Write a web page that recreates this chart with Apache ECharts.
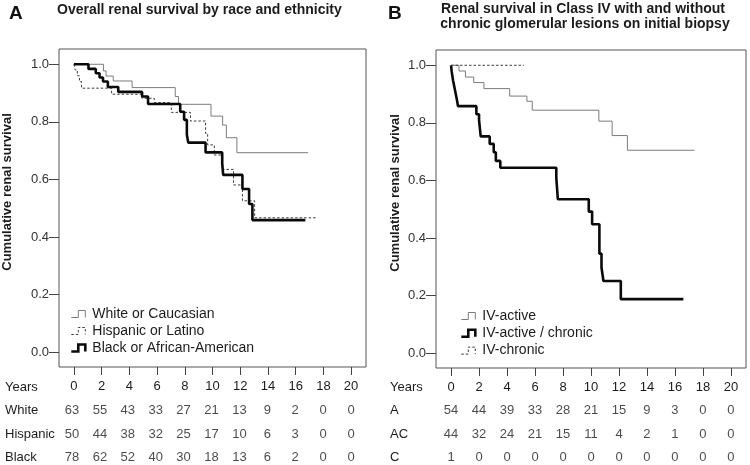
<!DOCTYPE html>
<html><head><meta charset="utf-8">
<script src="https://cdn.jsdelivr.net/npm/echarts@6/dist/echarts.min.js"></script>
<style>html,body{margin:0;padding:0;background:#fff}#c{width:750px;height:465px}</style>
</head><body><div id="c"></div>
<script>
// ---- tick labels ----
const yearTicks = [0, 2, 4, 6, 8, 10, 12, 14, 16, 18, 20];
const survTicks = [0, 0.2, 0.4, 0.6, 0.8, 1.0];

// ---- Panel A: overall renal survival by race and ethnicity ----
const whiteT = [0, 2.13, 2.32, 2.84, 4.2, 7.31, 7.55, 9.89, 10.73, 11.0, 11.76, 16.9];
const whiteS = [1.0, 0.977, 0.959, 0.942, 0.919, 0.888, 0.861, 0.82, 0.789, 0.745, 0.693, 0.693];
const hispT = [0, 0.1, 0.25, 0.4, 0.55, 2.72, 4.9, 5.8, 7.03, 8.41, 9.5, 9.65, 10.13, 10.73, 11.52, 12.16, 13.04, 17.5];
const hispS = [1.0, 0.98, 0.96, 0.94, 0.917, 0.896, 0.882, 0.867, 0.833, 0.803, 0.76, 0.72, 0.685, 0.635, 0.581, 0.526, 0.467, 0.467];
const blackT = [0, 1.05, 1.58, 1.85, 2.1, 2.45, 3.2, 4.92, 5.35, 7.67, 7.95, 8.15, 8.25, 9.5, 10.7, 10.77, 12.16, 12.64, 12.88, 16.7];
const blackS = [1.0, 0.984, 0.969, 0.954, 0.94, 0.921, 0.904, 0.888, 0.862, 0.835, 0.807, 0.755, 0.728, 0.694, 0.656, 0.616, 0.567, 0.515, 0.459, 0.459];

const rowNamesA = ['Years', 'White', 'Hispanic', 'Black'];
const whiteRisk = [63, 55, 43, 33, 27, 21, 13, 9, 2, 0, 0];
const hispRisk = [50, 44, 38, 32, 25, 17, 10, 6, 3, 0, 0];
const blackRisk = [78, 62, 52, 40, 30, 18, 13, 6, 2, 0, 0];

// ---- Panel B: Class IV with and without chronic lesions ----
const activeT = [0, 0.57, 1.03, 1.62, 2.35, 4.19, 5.42, 5.8, 10.56, 11.51, 12.6, 17.4];
const activeS = [1.0, 0.98, 0.959, 0.94, 0.919, 0.893, 0.875, 0.844, 0.806, 0.756, 0.705, 0.705];
const acT = [0, 0.05, 0.14, 0.26, 0.4, 0.5, 1.81, 2.0, 2.12, 2.76, 3.05, 3.2, 3.52, 7.52, 7.63, 9.84, 10.08, 10.6, 10.75, 10.89, 12.13, 16.6];
const acS = [1.0, 0.977, 0.948, 0.919, 0.885, 0.858, 0.83, 0.81, 0.753, 0.727, 0.698, 0.668, 0.644, 0.61, 0.535, 0.492, 0.448, 0.346, 0.298, 0.251, 0.188, 0.188];
const chronicT = [0, 5.2];
const chronicS = [1.0, 1.0];

const rowNamesB = ['Years', 'A', 'AC', 'C'];
const aRisk = [54, 44, 39, 33, 28, 21, 15, 9, 3, 0, 0];
const acRisk = [44, 32, 24, 21, 15, 11, 4, 2, 1, 0, 0];
const cRisk = [1, 0, 0, 0, 0, 0, 0, 0, 0, 0, 0];

const namesA = ['White or Caucasian', 'Hispanic or Latino', 'Black or African-American'];
const namesB = ['IV-active', 'IV-active / chronic', 'IV-chronic'];

// ---- helpers ----
const FONT = "'Liberation Sans', Arial, sans-serif";
const TXT = '#1c1c1c';
const zip = (t, s) => t.map((x, i) => [x, s[i]]);
const XMIN = -1.075, XMAX = 21.075, YMIN = -0.051, YMAX = 1.053;
const stepIcon = 'path://M0,10L10,10L10,0L20,0L20,10';

const styles = {
  thin: { color: '#7c7c7c', width: 1, type: 'solid' },
  dot: { color: '#3c3c3c', width: 1, type: [2.5, 2] },
  thick: { color: '#0a0a0a', width: 2.6, type: 'solid' }
};

function kmSeries(name, t, s, st, axis) {
  return {
    type: 'line', name: name, step: 'end', symbol: 'none',
    xAxisIndex: axis, yAxisIndex: axis, data: zip(t, s),
    lineStyle: st, itemStyle: { color: st.color }, animation: false, silent: true
  };
}
function riskSeries(row, vals, axis) {
  return {
    type: 'scatter', xAxisIndex: axis, yAxisIndex: axis, symbolSize: 0, silent: true,
    data: yearTicks.map((t, i) => [t, row, vals[i]]),
    label: { show: true, position: 'inside', formatter: p => String(p.value[2]),
      fontSize: 13, fontFamily: FONT, color: TXT },
    animation: false
  };
}
function legendItem(name, st) {
  return { name: name, icon: stepIcon,
    itemStyle: { color: 'rgba(0,0,0,0)', borderColor: st.color, borderWidth: st.width, borderType: st.type } };
}
function mainX(grid) {
  return {
    type: 'value', gridIndex: grid, min: XMIN, max: XMAX, position: 'bottom',
    axisLine: { show: false, onZero: false }, splitLine: { show: false },
    axisTick: { show: true, customValues: yearTicks, length: 8, lineStyle: { color: '#444', width: 1 } },
    axisLabel: { customValues: yearTicks, margin: 13, fontSize: 13, fontFamily: FONT, color: TXT }
  };
}
function mainY(grid, gap) {
  return {
    type: 'value', gridIndex: grid, min: YMIN, max: YMAX, position: 'left',
    axisLine: { show: false, onZero: false }, splitLine: { show: false },
    axisTick: { show: true, customValues: survTicks, length: 10, lineStyle: { color: '#444', width: 1 } },
    axisLabel: { customValues: survTicks, margin: 10, fontSize: 13, fontFamily: FONT, color: '#333',
      formatter: v => Number(v).toFixed(1) },
    name: 'Cumulative renal survival', nameLocation: 'middle', nameGap: gap,
    nameTextStyle: { fontSize: 13, fontWeight: 'bold', fontFamily: FONT, color: TXT, padding: [0, 0, 0, 32] }
  };
}
function tableX(grid) {
  return { type: 'value', gridIndex: grid, min: XMIN, max: XMAX, show: false };
}
function tableY(grid, rows, margin) {
  return {
    type: 'category', gridIndex: grid, data: rows, inverse: true, boundaryGap: false,
    axisLine: { show: false, onZero: false }, axisTick: { show: false }, splitLine: { show: false },
    axisLabel: { align: 'left', margin: margin, fontSize: 13, fontFamily: FONT, color: TXT }
  };
}

const chart = echarts.init(document.getElementById('c'), null, { renderer: 'canvas' });
chart.setOption({
  backgroundColor: '#fff',
  animation: false,
  textStyle: { fontFamily: FONT },
  grid: [
    { left: 57, top: 49, width: 309, height: 318, show: true, borderColor: '#555', borderWidth: 1, backgroundColor: 'transparent' },
    { left: 436, top: 50, width: 310, height: 318, show: true, borderColor: '#555', borderWidth: 1, backgroundColor: 'transparent' },
    { left: 57, top: 387, width: 309, height: 70.5 },
    { left: 436, top: 387, width: 310, height: 70.5 }
  ],
  xAxis: [mainX(0), mainX(1), tableX(2), tableX(3)],
  yAxis: [mainY(0, 45), mainY(1, 34), tableY(2, rowNamesA, 52), tableY(3, rowNamesB, 46)],
  legend: [
    { orient: 'vertical', left: 70, top: 307, padding: 0, itemGap: 3, itemWidth: 18, itemHeight: 7,
      selectedMode: false, textStyle: { fontSize: 14, lineHeight: 14, fontFamily: FONT, color: TXT },
      data: [legendItem(namesA[0], styles.thin), legendItem(namesA[1], styles.dot), legendItem(namesA[2], styles.thick)] },
    { orient: 'vertical', left: 460, top: 309, padding: 0, itemGap: 3.3, itemWidth: 18, itemHeight: 7,
      selectedMode: false, textStyle: { fontSize: 14, lineHeight: 14, fontFamily: FONT, color: TXT },
      data: [legendItem(namesB[0], styles.thin), legendItem(namesB[1], styles.thick), legendItem(namesB[2], styles.dot)] }
  ],
  graphic: [
    { type: 'text', x: 9, y: 13.5, style: { text: 'A', font: "bold 19px " + FONT, fill: '#111', verticalAlign: 'middle' } },
    { type: 'text', x: 57, y: 10, style: { text: 'Overall renal survival by race and ethnicity', font: "bold 14px " + FONT, fill: TXT, verticalAlign: 'middle' } },
    { type: 'text', x: 388, y: 13.5, style: { text: 'B', font: "bold 19px " + FONT, fill: '#111', verticalAlign: 'middle' } },
    { type: 'text', x: 583, y: 9, style: { text: 'Renal survival in Class IV with and without', font: "bold 14px " + FONT, fill: TXT, align: 'center', verticalAlign: 'middle' } },
    { type: 'text', x: 585, y: 24, style: { text: 'chronic glomerular lesions on initial biopsy', font: "bold 14px " + FONT, fill: TXT, align: 'center', verticalAlign: 'middle' } }
  ],
  series: [
    kmSeries(namesA[0], whiteT, whiteS, styles.thin, 0),
    kmSeries(namesA[1], hispT, hispS, styles.dot, 0),
    kmSeries(namesA[2], blackT, blackS, styles.thick, 0),
    kmSeries(namesB[0], activeT, activeS, styles.thin, 1),
    kmSeries(namesB[1], acT, acS, styles.thick, 1),
    kmSeries(namesB[2], chronicT, chronicS, styles.dot, 1),
    riskSeries('White', whiteRisk, 2),
    riskSeries('Hispanic', hispRisk, 2),
    riskSeries('Black', blackRisk, 2),
    riskSeries('A', aRisk, 3),
    riskSeries('AC', acRisk, 3),
    riskSeries('C', cRisk, 3)
  ]
});
</script></body></html>
